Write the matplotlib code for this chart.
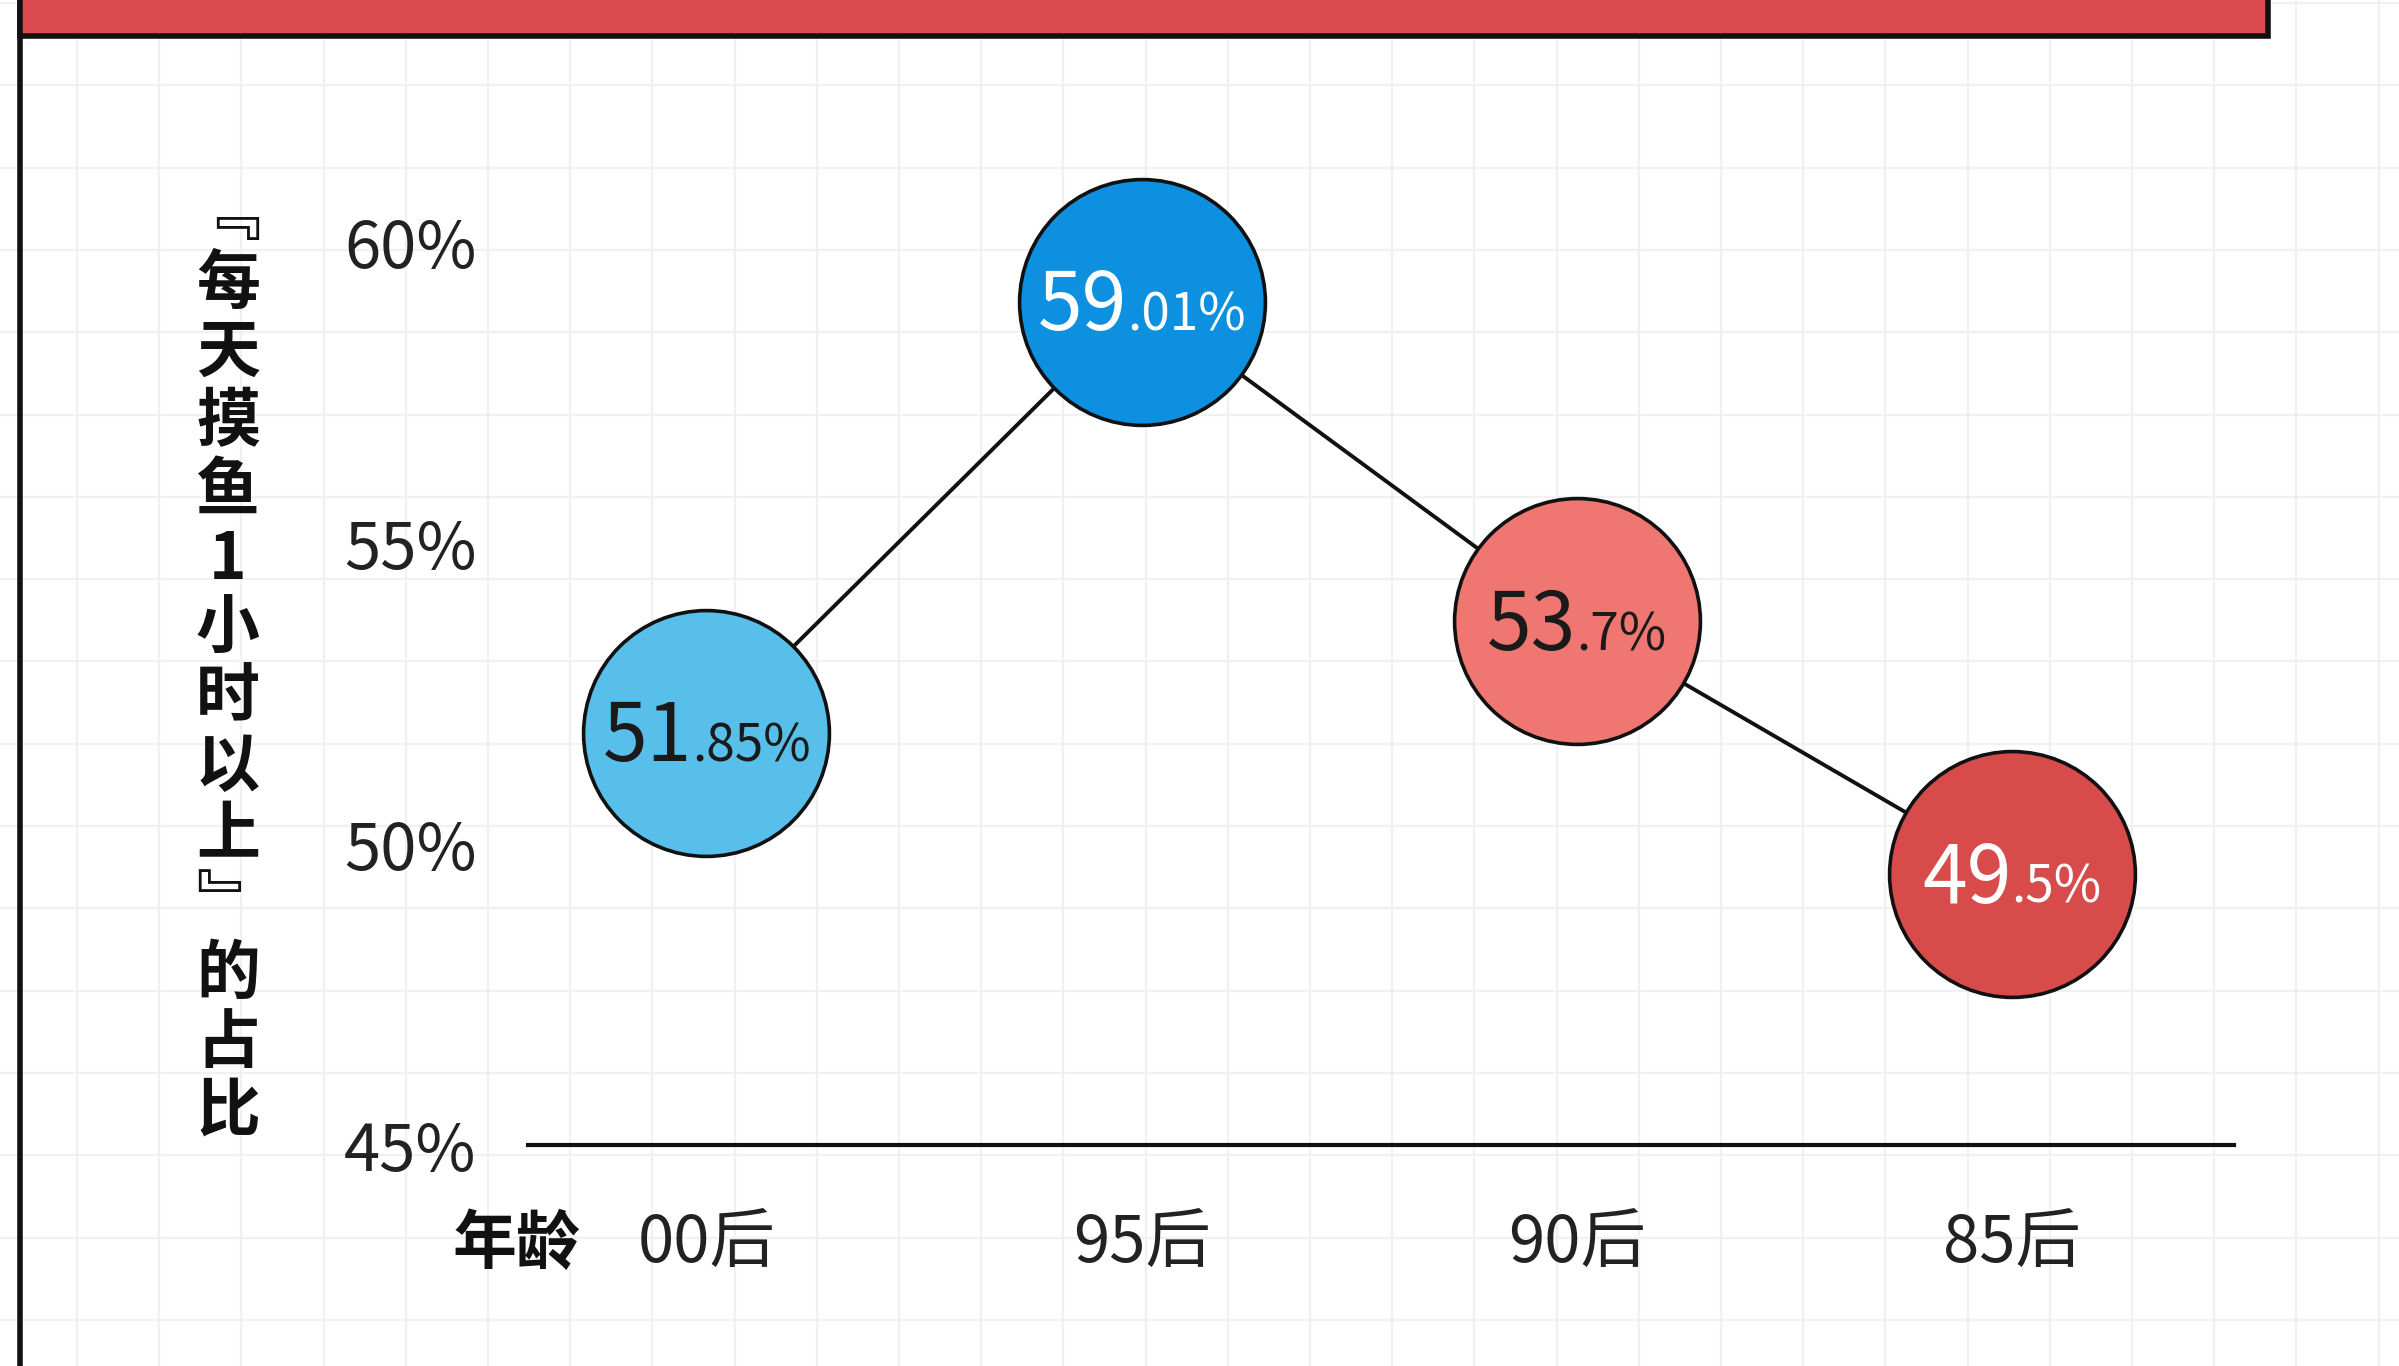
import matplotlib
matplotlib.use('Agg')
import matplotlib.pyplot as plt
from matplotlib.offsetbox import TextArea, HPacker, AnnotationBbox
from matplotlib.patches import Rectangle
import numpy as np

plt.rcParams['font.family'] = ['Noto Sans CJK SC', 'DejaVu Sans']

# Data ########################################################################

ages = ['00后', '95后', '90后', '85后']
share = [51.85, 59.01, 53.7, 49.5]
label_int = ['51', '59', '53', '49']
label_dec = ['.85%', '.01%', '.7%', '.5%']
yticks = [45, 50, 55, 60]
ytick_labels = ['45%', '50%', '55%', '60%']
ylabel_chars = list('﹃每天摸鱼1小时以上﹄的占比')

circle_colors = ['#57BFEA', '#0C90DF', '#F07672', '#D84B4B']
text_colors = ['#1a1a1a', 'white', '#1a1a1a', 'white']

W, H = 2399, 1366
fig = plt.figure(figsize=(W / 100, H / 100), dpi=100)
fig.patch.set_facecolor('white')

# Background: grid paper, left rule, red banner (pixel coords) ################
bg = fig.add_axes([0, 0, 1, 1], zorder=0)
bg.set_xlim(0, W)
bg.set_ylim(H, 0)
bg.axis('off')
for gx in np.arange(77, W, 82.2):
    bg.axvline(gx, color='#f1f1f1', lw=1.6, zorder=0)
for gy in np.arange(3, H, 82.3):
    bg.axhline(gy, color='#f1f1f1', lw=1.6, zorder=0)
bg.plot([20, 20], [0, H], color='#111111', lw=4, zorder=2)
bg.add_patch(Rectangle((20, -20), 2248, 56, facecolor='#DA4A4E',
                       edgecolor='#111111', lw=4, zorder=3))

# Vertical y label, one character per cell
for i, ch in enumerate(ylabel_chars):
    bg.text(228, 215 + i * 69, ch, ha='center', va='center',
            fontsize=46, fontweight='bold', color='#111111', zorder=3)

bg.text(516, 1244, '年龄', ha='center', va='center', fontsize=46,
        fontweight='bold', color='#111111', zorder=3)

# Main chart ##################################################################
ax = fig.add_axes([528 / W, 1 - 1145 / H, (2234 - 528) / W, (1145 - 121.6) / H],
                  zorder=1)
ax.patch.set_alpha(0)
x = np.arange(len(ages))
ax.set_xlim(-0.41, 3.51)
ax.set_ylim(45, 62)

ax.plot(x, share, color='#111111', lw=2.8, zorder=2)
for xi, yi, c in zip(x, share, circle_colors):
    ax.plot(xi, yi, 'o', ms=177, mfc=c, mec='#111111', mew=2.6,
            zorder=3, clip_on=False)

for xi, yi, a, b, tc in zip(x, share, label_int, label_dec, text_colors):
    big = TextArea(a, textprops=dict(fontsize=58, color=tc))
    small = TextArea(b, textprops=dict(fontsize=37, color=tc))
    pack = HPacker(children=[big, small], align='baseline', pad=0, sep=0)
    ab = AnnotationBbox(pack, (xi, yi), xybox=(0, -4), boxcoords='offset points',
                        frameon=False, box_alignment=(0.5, 0.5), zorder=4)
    ax.add_artist(ab)

for s in ['top', 'right', 'left']:
    ax.spines[s].set_visible(False)
ax.spines['bottom'].set_linewidth(3)
ax.spines['bottom'].set_color('#111111')

ax.set_yticks(yticks)
ax.set_yticklabels(ytick_labels)
ax.set_xticks(x)
ax.set_xticklabels(ages)
ax.tick_params(axis='y', length=0, pad=37, labelsize=47, labelcolor='#222222')
ax.tick_params(axis='x', length=0, pad=47, labelsize=47, labelcolor='#222222')

fig.savefig('out.png', dpi=100)
